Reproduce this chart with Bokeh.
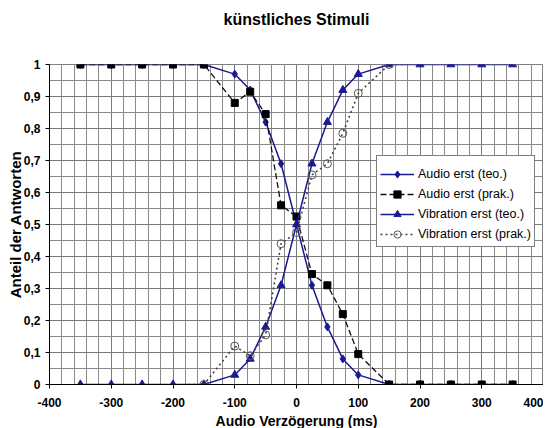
from bokeh.plotting import figure
from bokeh.models import FixedTicker, Range1d, Legend, LegendItem, Title
from bokeh.embed import file_html
from bokeh.resources import INLINE

# ---- data ----
x_teo = [-350, -300, -250, -200, -150, -100, -75, -50, -25, 0, 25, 50, 75, 100, 150, 200, 250, 300, 350]
audio_teo = [1, 1, 1, 1, 1, 0.97, 0.92, 0.82, 0.69, 0.5, 0.31, 0.18, 0.08, 0.03, 0, 0, 0, 0, 0]
vib_teo = [0, 0, 0, 0, 0, 0.03, 0.08, 0.18, 0.31, 0.5, 0.69, 0.82, 0.92, 0.97, 1, 1, 1, 1, 1]

x_audio_prak = [-350, -300, -250, -200, -150, -100, -75, -50, -25, 0, 25, 50, 75, 100, 150, 200, 250, 300, 350]
audio_prak = [1, 1, 1, 1, 1, 0.88, 0.915, 0.845, 0.56, 0.525, 0.345, 0.31, 0.22, 0.095, 0, 0, 0, 0, 0]

x_vib_prak = [-175, -150, -100, -75, -50, -25, 0, 25, 50, 75, 100, 150, 175]
vib_prak = [0, 0, 0.12, 0.09, 0.155, 0.44, 0.475, 0.655, 0.69, 0.785, 0.91, 1, 1]

x_ticks = [-400, -300, -200, -100, 0, 100, 200, 300, 400]
x_tick_labels = ["-400", "-300", "-200", "-100", "0", "100", "200", "300", "400"]
x_minor = list(range(-400, 401, 20))
y_ticks = [0, 0.1, 0.2, 0.3, 0.4, 0.5, 0.6, 0.7, 0.8, 0.9, 1.0]
y_tick_labels = ["0", "0,1", "0,2", "0,3", "0,4", "0,5", "0,6", "0,7", "0,8", "0,9", "1"]
y_minor = [round(i * 0.05, 2) for i in range(21)]

title_text = "künstliches Stimuli"
x_label = "Audio Verzögerung (ms)"
y_label = "Anteil der Antworten"
series_names = ["Audio erst (teo.)", "Audio erst (prak.)", "Vibration erst (teo.)", "Vibration erst (prak.)"]

# ---- style ----
NAVY = "#1a1a90"
FONT = "Liberation Sans"

p = figure(title=None, frame_width=494, frame_height=320, output_backend="svg", toolbar_location=None,
           x_range=Range1d(-400, 400), y_range=Range1d(0, 1),
           min_border_left=49, min_border_right=0, min_border_top=64, min_border_bottom=0)
p.background_fill_color = "white"
p.border_fill_color = "white"
p.outline_line_color = "#7f7f7f"

# spacer (nearest the frame) then the real title above it
spacer = Title(text=" ", text_font_size="10px", standoff=22, vertical_align="top")
p.add_layout(spacer, "above")
main_title = Title(text=title_text, align="center", offset=-9, vertical_align="top", standoff=0,
                   text_font=FONT, text_font_size="16px", text_font_style="bold", text_color="black")
p.add_layout(main_title, "above")

p.xaxis.ticker = FixedTicker(ticks=x_ticks, minor_ticks=x_minor)
p.yaxis.ticker = FixedTicker(ticks=y_ticks, minor_ticks=y_minor)
p.yaxis.major_label_overrides = {t: l for t, l in zip(y_ticks, y_tick_labels)}
p.xaxis.major_label_overrides = {t: l for t, l in zip(x_ticks, x_tick_labels)}

for ax in (p.xaxis[0], p.yaxis[0]):
    ax.axis_line_color = "black"
    ax.major_tick_line_color = "black"
    ax.major_tick_out = 4
    ax.major_tick_in = 0
    ax.minor_tick_line_color = None
    ax.major_label_text_font = FONT
    ax.major_label_text_font_size = "12px"
    ax.major_label_text_font_style = "bold"
    ax.major_label_text_color = "black"
    ax.axis_label_text_font = FONT
    ax.axis_label_text_font_style = "bold"
    ax.axis_label_text_color = "black"

p.xaxis.major_label_standoff = 9
p.xaxis.axis_label_standoff = 3
p.yaxis.major_label_standoff = 5
p.yaxis.axis_label_standoff = -3

p.xaxis.axis_label = x_label
p.xaxis.axis_label_text_font_size = "14px"
p.yaxis.axis_label = y_label
p.yaxis.axis_label_text_font_size = "15px"

for g in (p.xgrid[0], p.ygrid[0]):
    g.grid_line_color = "#7a7a7a"
    g.grid_line_width = 1
    g.minor_grid_line_color = "#8a8a8a"
    g.minor_grid_line_width = 1

# ---- series ----
l1 = p.line(x_teo, audio_teo, line_color=NAVY, line_width=1.5)
m1 = p.scatter(x_teo, audio_teo, marker="diamond", size=8, fill_color=NAVY, line_color=NAVY)

l2 = p.line(x_audio_prak, audio_prak, line_color="#111111", line_width=1.3, line_dash="6 3")
m2 = p.scatter(x_audio_prak, audio_prak, marker="square", size=7, fill_color="black", line_color="black")

l3 = p.line(x_teo, vib_teo, line_color=NAVY, line_width=1.5)
m3 = p.scatter(x_teo, vib_teo, marker="triangle", size=8, fill_color=NAVY, line_color=NAVY)

l4 = p.line(x_vib_prak, vib_prak, line_color="#444444", line_width=1.6, line_dash="2 3")
# the end points of this series carry no visible marker in the original
m4 = p.scatter(x_vib_prak[1:-1], vib_prak[1:-1], marker="circle", size=8, fill_color=None,
               line_color="#555555", line_width=1)

legend = Legend(items=[
    LegendItem(label=series_names[0], renderers=[l1, m1]),
    LegendItem(label=series_names[1], renderers=[l2, m2]),
    LegendItem(label=series_names[2], renderers=[l3, m3]),
    LegendItem(label=series_names[3], renderers=[l4, m4]),
], location=(327, 137))
legend.title = " "
legend.title_text_font_size = "6px"
legend.title_standoff = 0
legend.label_text_font = FONT
legend.label_text_font_size = "12.5px"
legend.label_text_color = "black"
legend.border_line_color = "black"
legend.border_line_width = 1
legend.background_fill_color = "white"
legend.background_fill_alpha = 1
legend.padding = 3
legend.spacing = 2
legend.margin = 0
legend.glyph_width = 34
legend.glyph_height = 18
legend.label_height = 18
legend.label_standoff = 4
p.add_layout(legend, "center")

open("out.html", "w").write(file_html(p, INLINE))
